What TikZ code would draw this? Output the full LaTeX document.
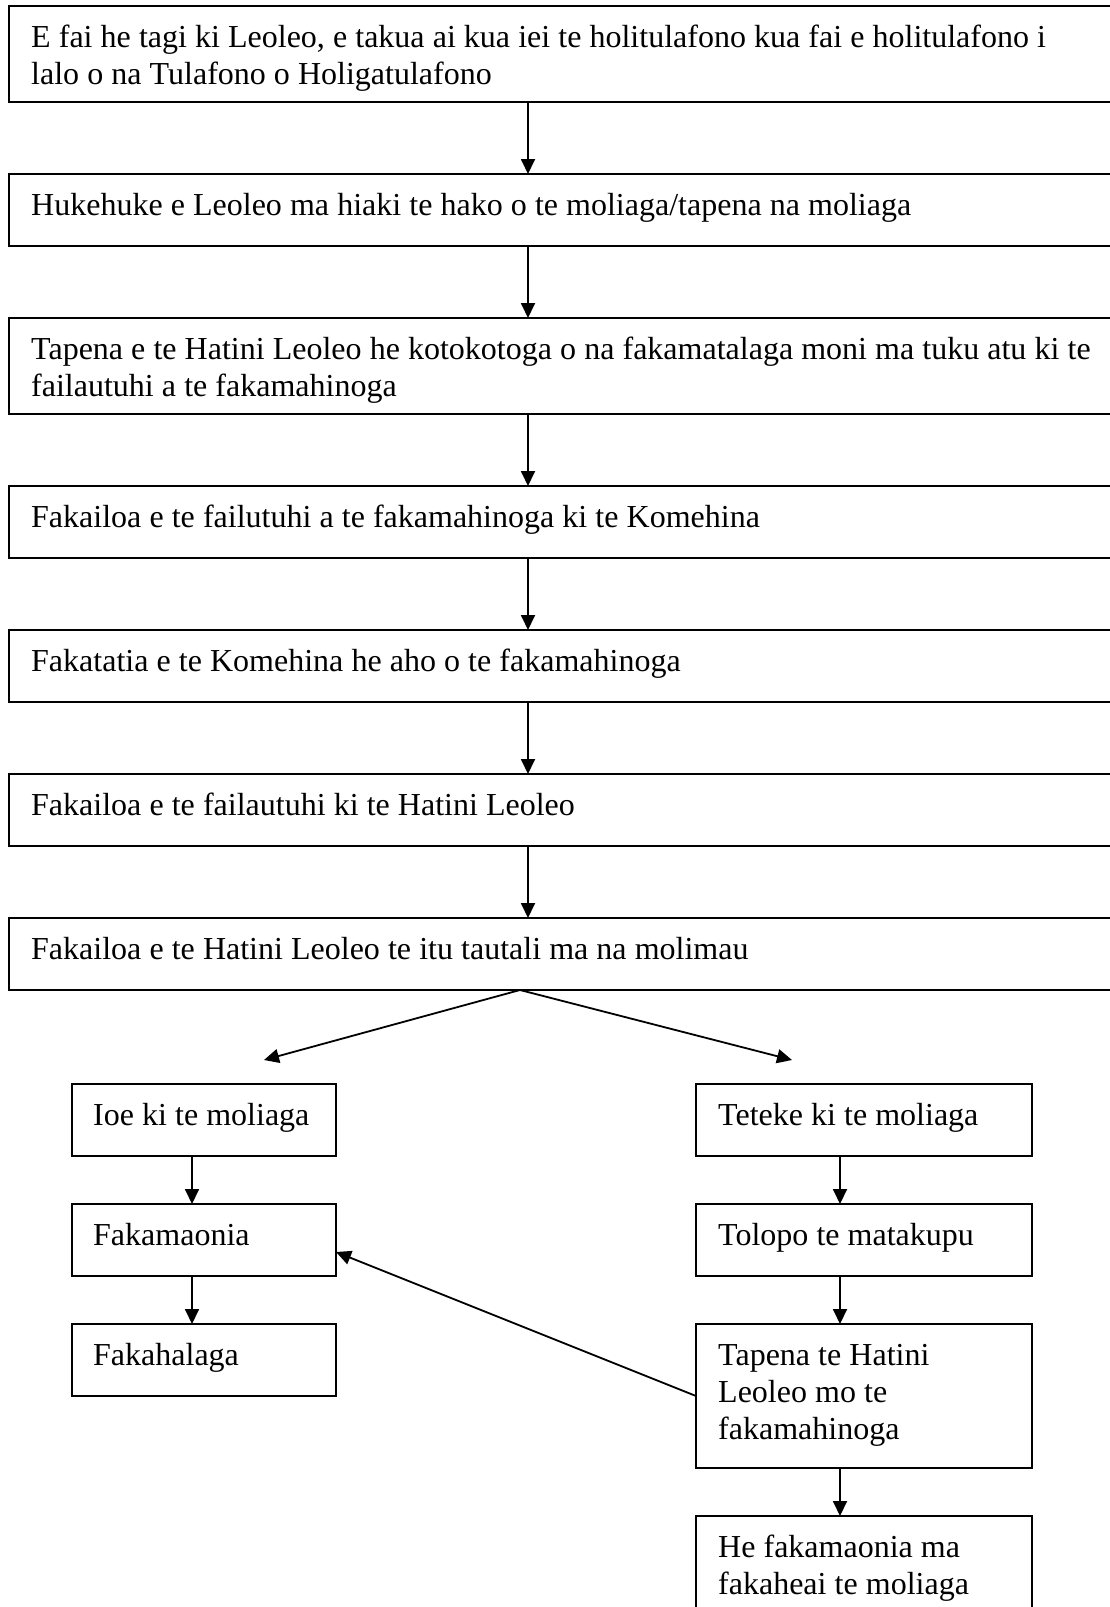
\documentclass[tikz,border=0pt]{standalone}
\usepackage{fontspec}
\setmainfont{Liberation Serif}
\usetikzlibrary{arrows.meta,calc}
\begin{document}
\begin{tikzpicture}[x=1pt,y=-1pt,
  box/.style={draw,line width=1.8pt,anchor=north west,inner sep=0pt,outer sep=0pt},
  txt/.style={anchor=base west,inner sep=0pt,align=left,text width=1200pt,font=\fontsize{32pt}{37pt}\selectfont,
    execute at begin node={\spaceskip=8.1pt plus 0pt minus 0pt\xspaceskip=\spaceskip}},
  arr/.style={line width=1.8pt,-{Triangle[length=15pt,width=14pt]}}]
\useasboundingbox (0,0) rectangle (1109,1607);
\fill[white] (0,0) rectangle (1109,1607);
% column coordinates
\coordinate (cx) at (528,0);
\coordinate (sx) at (520,0);
\coordinate (lx) at (192,0);
\coordinate (rx) at (840,0);
% main column boxes
\node[box,minimum width=1103pt,minimum height=96pt] (b1) at (9,6) {};
\node[box,minimum width=1103pt,minimum height=72pt] (b2) at (9,174) {};
\node[box,minimum width=1103pt,minimum height=96pt] (b3) at (9,318) {};
\node[box,minimum width=1103pt,minimum height=72pt] (b4) at (9,486) {};
\node[box,minimum width=1103pt,minimum height=72pt] (b5) at (9,630) {};
\node[box,minimum width=1103pt,minimum height=72pt] (b6) at (9,774) {};
\node[box,minimum width=1103pt,minimum height=72pt] (b7) at (9,918) {};
\node[txt] (t1) at (31,47.5) {E fai he tagi ki Leoleo, e takua ai kua iei te holitulafono kua fai e holitulafono i\\lalo o na Tulafono o Holigatulafono};
\node[txt] (t2) at (31,215.5) {Hukehuke e Leoleo ma hiaki te hako o te moliaga/tapena na moliaga};
\node[txt] (t3) at (31,359.5) {Tapena e te Hatini Leoleo he kotokotoga o na fakamatalaga moni ma tuku atu ki te\\failautuhi a te fakamahinoga};
\node[txt] (t4) at (31,527.5) {Fakailoa e te failutuhi a te fakamahinoga ki te Komehina};
\node[txt] (t5) at (31,671.5) {Fakatatia e te Komehina he aho o te fakamahinoga};
\node[txt] (t6) at (31,815.5) {Fakailoa e te failautuhi ki te Hatini Leoleo};
\node[txt] (t7) at (31,959.5) {Fakailoa e te Hatini Leoleo te itu tautali ma na molimau};
% lower boxes
\node[box,minimum width=264pt,minimum height=72pt] (l1) at (72,1084) {};
\node[box,minimum width=264pt,minimum height=72pt] (l2) at (72,1204) {};
\node[box,minimum width=264pt,minimum height=72pt] (l3) at (72,1324) {};
\node[box,minimum width=336pt,minimum height=72pt] (r1) at (696,1084) {};
\node[box,minimum width=336pt,minimum height=72pt] (r2) at (696,1204) {};
\node[box,minimum width=336pt,minimum height=144pt] (r3) at (696,1324) {};
\node[box,minimum width=336pt,minimum height=100pt] (r4) at (696,1516) {};
\node[txt,text width=240pt] (tl1) at (93,1125) {Ioe ki te moliaga};
\node[txt,text width=240pt] (tl2) at (93,1245) {Fakamaonia};
\node[txt,text width=240pt] (tl3) at (93,1365) {Fakahalaga};
\node[txt,text width=310pt] (tr1) at (718,1125) {Teteke ki te moliaga};
\node[txt,text width=310pt] (tr2) at (718,1245) {Tolopo te matakupu};
\node[txt,text width=310pt] (tr3) at (718,1365) {Tapena te Hatini\\Leoleo mo te\\fakamahinoga};
\node[txt,text width=310pt] (tr4) at (718,1557) {He fakamaonia ma\\fakaheai te moliaga};
% main column arrows
\draw[arr] (b1.south -| cx) -- (b2.north -| cx);
\draw[arr] (b2.south -| cx) -- (b3.north -| cx);
\draw[arr] (b3.south -| cx) -- (b4.north -| cx);
\draw[arr] (b4.south -| cx) -- (b5.north -| cx);
\draw[arr] (b5.south -| cx) -- (b6.north -| cx);
\draw[arr] (b6.south -| cx) -- (b7.north -| cx);
% split
\coordinate (ltip) at (264,1060);
\coordinate (rtip) at (792,1060);
\draw[arr] (b7.south -| sx) -- (ltip);
\draw[arr] (b7.south -| sx) -- (rtip);
% left column
\draw[arr] (l1.south -| lx) -- (l2.north -| lx);
\draw[arr] (l2.south -| lx) -- (l3.north -| lx);
% right column
\draw[arr] (r1.south -| rx) -- (r2.north -| rx);
\draw[arr] (r2.south -| rx) -- (r3.north -| rx);
\draw[arr] (r3.south -| rx) -- (r4.north -| rx);
% feedback
\draw[arr] (r3.west) -- ($(l2.east)+(0,12)$);
\end{tikzpicture}
\end{document}
